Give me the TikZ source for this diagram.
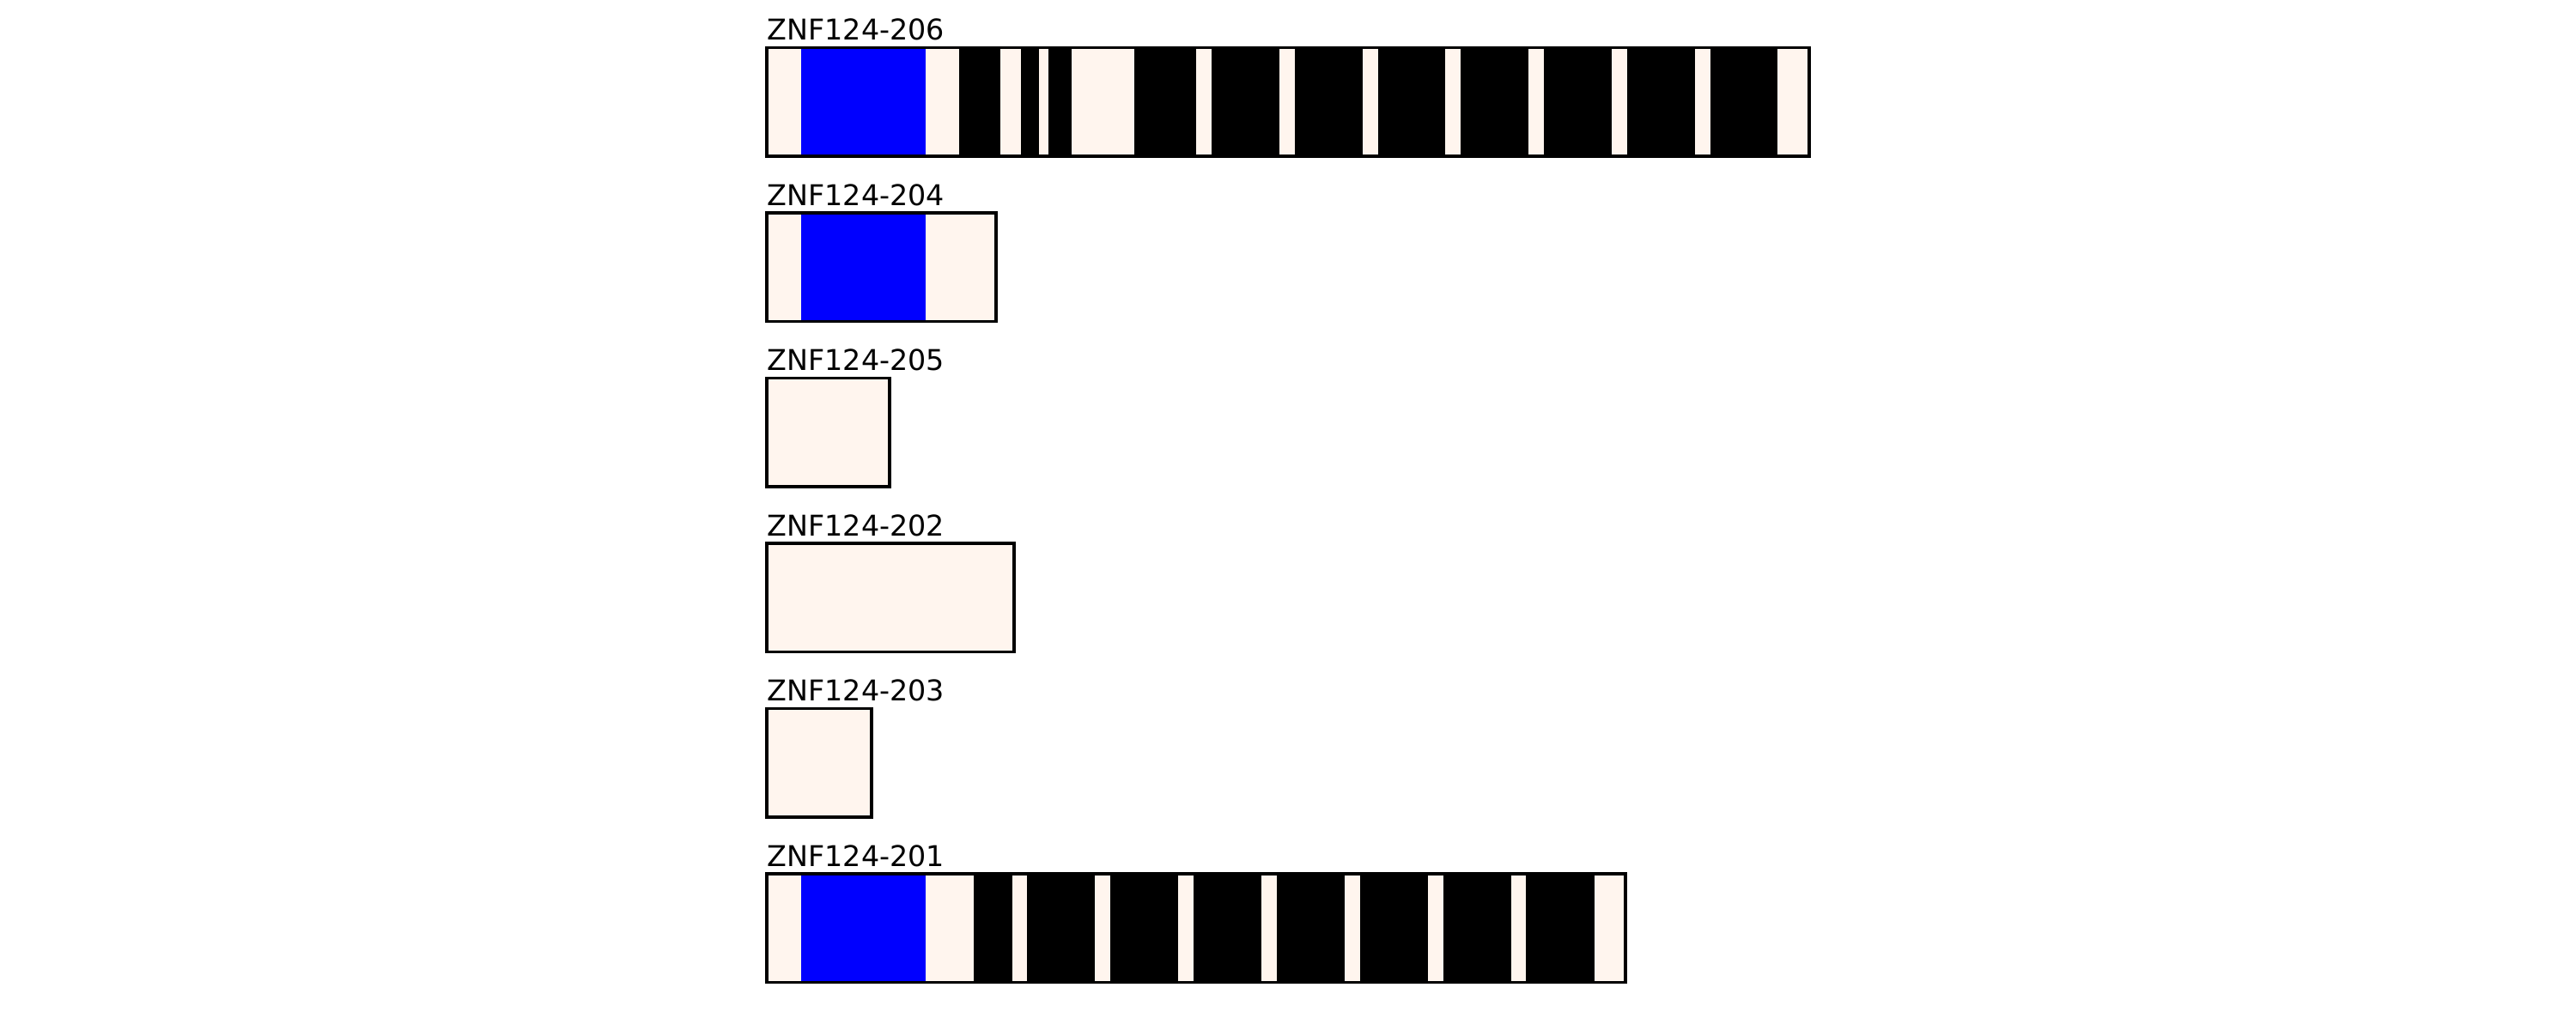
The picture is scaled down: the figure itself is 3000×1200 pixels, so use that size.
\documentclass[tikz,border=0pt]{standalone}
\usepackage{fontspec}
\setmainfont{DejaVu Sans}
\definecolor{exon}{HTML}{FFF5EE}
\definecolor{cds}{HTML}{0000FF}
\begin{document}
\begin{tikzpicture}[x=0.01cm,y=-0.01cm,
  lbl/.style={anchor=base west,inner sep=0pt,font=\fontsize{9.48}{11}\selectfont},
  bar/.style={draw=black,line width=0.95pt},
  seg/.style={fill=black},
  bluefill/.style={fill=cds}]
\useasboundingbox (0,0) rectangle (3000,1200);
% bar 1: ZNF124-206, top 55.5
\fill[exon] (893,55.5) rectangle (2107,182);
\fill[cds] (933,55.5) rectangle (1077.5,182);
\foreach \a/\b in {1117/1164.6,1188.9/1209.6,1221.1/1247.9,1321.1/1392.9,1411.1/1489.6,1507.9/1587,1604.8/1683.4,1701.3/1779.8,1798.1/1876.7,1895/1973.6,1991.9/2070.4}
  \fill[seg] (\a,55.5) rectangle (\b,182);
\draw[bar] (893,55.5) rectangle (2107,182);
\node[lbl] (l206) at (893,46.5) {ZNF124-206};
% bar 2: ZNF124-204
\fill[exon] (893,248) rectangle (1160,374.5);
\fill[cds] (933,248) rectangle (1077.5,374.5);
\draw[bar] (893,248) rectangle (1160,374.5);
\node[lbl] (l204) at (893,239) {ZNF124-204};
% bar 3: ZNF124-205
\fill[exon] (893,440.5) rectangle (1036,567);
\draw[bar] (893,440.5) rectangle (1036,567);
\node[lbl] (l205) at (893,431.5) {ZNF124-205};
% bar 4: ZNF124-202
\fill[exon] (893,633) rectangle (1181,759.5);
\draw[bar] (893,633) rectangle (1181,759.5);
\node[lbl] (l202) at (893,624) {ZNF124-202};
% bar 5: ZNF124-203
\fill[exon] (893,825.5) rectangle (1015,952);
\draw[bar] (893,825.5) rectangle (1015,952);
\node[lbl] (l203) at (893,816.5) {ZNF124-203};
% bar 6: ZNF124-201
\fill[exon] (893,1018) rectangle (1893,1144.5);
\fill[cds] (933,1018) rectangle (1077.5,1144.5);
\foreach \a/\b in {1134/1178.6,1196.1/1274.6,1292.9/1372.1,1390/1468.7,1487/1565.7,1584.3/1662.7,1681.3/1759.7,1777/1856.7}
  \fill[seg] (\a,1018) rectangle (\b,1144.5);
\draw[bar] (893,1018) rectangle (1893,1144.5);
\node[lbl] (l201) at (893,1009) {ZNF124-201};
\end{tikzpicture}
\end{document}
